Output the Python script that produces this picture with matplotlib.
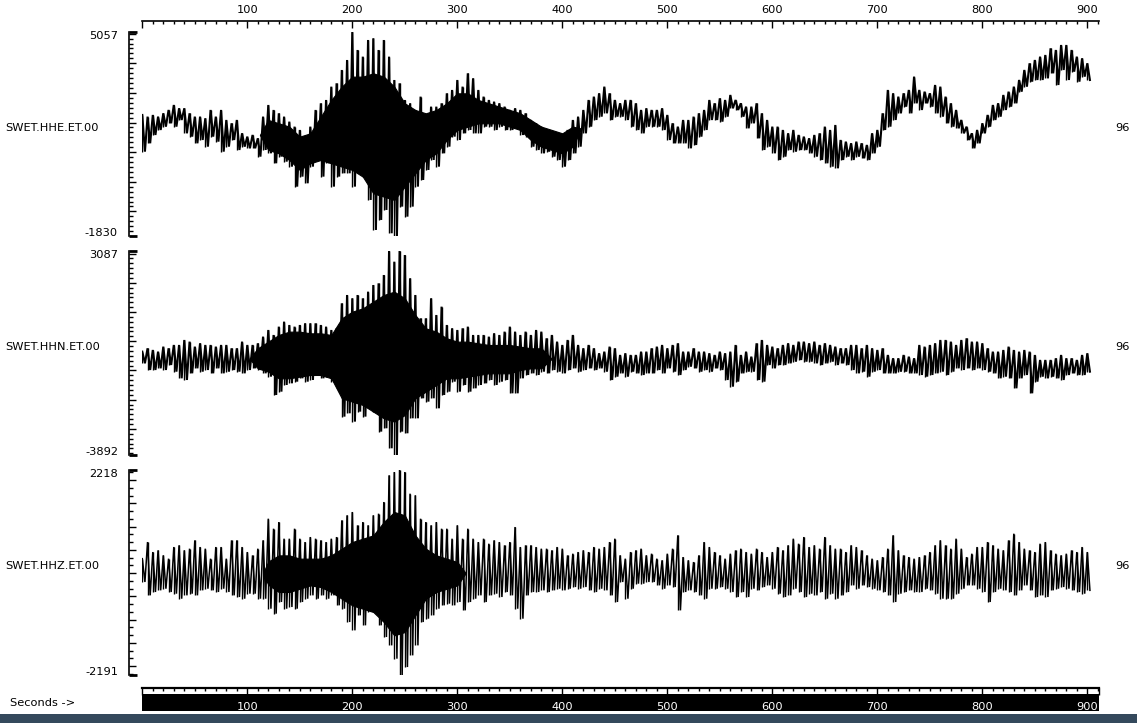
import numpy as np
import matplotlib
matplotlib.use("Agg")
import matplotlib.pyplot as plt
from matplotlib.patches import Rectangle
from matplotlib.ticker import MultipleLocator

# ---------------- data ----------------
time_s = np.arange(0, 901, 5)          # 5-second bins, start of each bin
channels = ["SWET.HHE.ET.00", "SWET.HHN.ET.00", "SWET.HHZ.ET.00"]
gain_labels = ["96", "96", "96"]
y_max = [5057, 3087, 2218]
y_min = [-1830, -3892, -2191]
time_ticks = [100, 200, 300, 400, 500, 600, 700, 800, 900]

# per-bin peak (upper) and trough (lower) of each trace
hhe_upper = [2256, 2200, 2256, 2200, 2312, 2425, 2593, 2481, 2481, 2312, 2200, 2200, 2143, 2425, 2200, 2425, 2087, 1975, 2087, 1637,
             1525, 1581, 1468, 2200, 2593, 2425, 2312, 2200, 2031, 1862, 1750, 1525, 1862, 2425, 2650, 2762, 3212, 3325, 3775, 4112,
             5057, 4450, 4225, 4787, 4843, 4450, 4787, 4225, 3437, 3325, 2762, 2650, 2425, 2875, 2200, 2537, 2537, 2650, 2987, 3100,
             3437, 3212, 3662, 3493, 3100, 2875, 2762, 2706, 2650, 2537, 2425, 2481, 2425, 2312, 2087, 1975, 1862, 1750, 1637, 1581,
             1525, 1750, 2087, 2200, 2425, 2762, 2875, 2987, 3212, 2987, 2762, 2650, 2762, 2762, 2650, 2425, 2481, 2425, 2425, 2481,
             2256, 1975, 1862, 2087, 2087, 2200, 2312, 2425, 2762, 2650, 2818, 2762, 2931, 2762, 2650, 2537, 2537, 2650, 2312, 2087,
             1862, 1862, 1750, 1637, 1750, 1581, 1525, 1468, 1581, 1637, 1862, 1750, 1918, 1412, 1356, 1300, 1356, 1300, 1243, 1637,
             1750, 2312, 3100, 2987, 2875, 2987, 3100, 3550, 3100, 3043, 2987, 3268, 3212, 2875, 2650, 2425, 2087, 1862, 1637, 1750,
             1975, 2256, 2593, 2650, 2931, 3043, 3212, 3437, 3775, 4000, 4112, 4225, 4281, 4506, 4450, 4618, 4618, 4450, 4225, 4168,
             4000]
hhe_lower = [1018, 1300, 1581, 1750, 1862, 1975, 1862, 2087, 1637, 1525, 1300, 1412, 1187, 1525, 1356, 1018, 1187, 1412, 1075, 1187,
             1131, 1131, 850, 1075, 962, 625, 850, 681, 512, -163, 175, -50, 512, 737, 175, 625, -163, 175, 287, 287,
             -163, 287, 175, -613, -1626, -1288, -950, -1738, -1830, -838, -1176, -838, -163, 62, 400, 737, 512, 962, 1187, 1525,
             1412, 1637, 1750, 1637, 1637, 1862, 1862, 1750, 1862, 1750, 1750, 1806, 1581, 1525, 1187, 1075, 962, 1018, 850, 737,
             512, 737, 962, 1187, 1637, 1862, 2087, 2200, 2312, 2087, 2200, 2200, 2087, 1862, 1750, 1637, 1862, 1862, 1862, 1750,
             1412, 1300, 1300, 1300, 1131, 1243, 1525, 1750, 2087, 2087, 2031, 2200, 2481, 2425, 2200, 1806, 1975, 1468, 1075, 1187,
             962, 737, 850, 1075, 1018, 1075, 1075, 962, 850, 737, 625, 512, 456, 737, 850, 737, 850, 793, 737, 962,
             1187, 1750, 1862, 2087, 2312, 2537, 2312, 2650, 2425, 2650, 2537, 2312, 2200, 1975, 1862, 1806, 1637, 1412, 1131, 1300,
             1637, 1862, 2087, 2200, 2425, 2537, 2650, 3043, 3212, 3381, 3437, 3437, 3493, 3662, 3268, 3775, 3437, 3718, 3381, 3550,
             3437]

hhn_upper = [-356, -242, -299, -356, -185, -242, -128, -128, 43, -14, -185, -71, -128, -128, -185, -128, -128, -242, -242, -14,
             -128, -128, -71, 157, 385, 214, 499, 670, 556, 499, 556, 613, 613, 613, 556, 499, 385, 442, 1297, 1582,
             1468, 1582, 1468, 1696, 1924, 1981, 2266, 3087, 2722, 3087, 2950, 2152, 1582, 784, 784, 1468, 898, 1183, 556, 442,
             385, 442, 499, 214, 214, 214, 157, 271, 214, 328, 499, 328, 214, 328, 214, 385, 328, 100, 214, -14,
             -128, 43, 214, -128, -242, -128, -242, -413, -356, -185, -242, -470, -413, -470, -470, -356, -356, -242, -185, -128,
             -242, -128, -71, -356, -356, -242, -356, -356, -413, -470, -356, -413, -356, -128, -470, -356, -527, -71, 43, -128,
             -185, -242, -128, -71, -128, -14, -14, -71, -14, -128, -71, -128, -185, -242, -242, -128, -128, -242, -128, -242,
             -299, -242, -470, -584, -584, -470, -527, -584, -128, -185, -128, -71, 43, 43, -14, -128, 43, 100, -14, -14,
             -71, -242, -356, -356, -299, -185, -299, -356, -299, -356, -470, -641, -641, -641, -584, -470, -584, -584, -641, -470,
             -413]
hhn_lower = [-755, -983, -983, -926, -983, -812, -1040, -1268, -1325, -1097, -926, -1040, -983, -1097, -926, -1097, -1040, -983, -1040, -1097,
             -983, -926, -983, -1097, -1211, -1838, -1724, -1496, -1439, -1382, -1268, -1382, -1325, -1154, -1268, -1211, -1382, -1610, -2579, -2465,
             -2750, -2408, -2579, -2294, -2408, -3092, -2978, -3662, -3892, -3092, -3149, -2636, -2636, -1952, -2066, -1952, -2294, -1838, -1724, -1382,
             -1724, -1496, -1724, -1610, -1496, -1439, -1325, -1496, -1382, -1325, -1781, -1781, -1268, -1154, -1097, -1154, -1040, -1097, -983, -1040,
             -1097, -983, -926, -1040, -983, -926, -983, -926, -1040, -1325, -1211, -1097, -1211, -1040, -1097, -1154, -1097, -1097, -983, -1097,
             -926, -1040, -1154, -983, -869, -926, -1040, -983, -1040, -926, -983, -1325, -1553, -1382, -1097, -1040, -1040, -1325, -1382, -812,
             -926, -812, -812, -755, -698, -641, -698, -698, -755, -812, -755, -698, -812, -755, -812, -983, -1097, -1040, -1211, -1040,
             -983, -1097, -1097, -1097, -1040, -1040, -1097, -1097, -1154, -1211, -1154, -1097, -1040, -1154, -1040, -926, -983, -926, -983, -926,
             -983, -1040, -1097, -1268, -1211, -1268, -1610, -1268, -1154, -1781, -1382, -1211, -1268, -1211, -1268, -1325, -1154, -1097, -1154, -1154,
             -1040]

hhz_upper = [311, 669, 454, 490, 382, 311, 562, 598, 490, 526, 705, 562, 526, 311, 562, 562, 311, 705, 705, 562,
             454, 382, 526, 705, 1171, 956, 1099, 741, 741, 956, 741, 669, 777, 741, 705, 669, 741, 777, 1135, 1243,
             1315, 1028, 1099, 1028, 1243, 1279, 1530, 2103, 2175, 2218, 2175, 1709, 1673, 1171, 1099, 1028, 1099, 956, 956, 741,
             1028, 741, 956, 741, 669, 741, 633, 705, 669, 598, 669, 992, 562, 598, 598, 562, 526, 526, 490, 562,
             526, 382, 418, 454, 490, 454, 562, 526, 562, 669, 741, 382, 311, 454, 490, 526, 382, 418, 311, 275,
             418, 526, 813, 346, 275, 239, 382, 669, 562, 454, 382, 311, 418, 490, 526, 454, 418, 526, 454, 346,
             454, 562, 490, 598, 741, 633, 777, 562, 598, 526, 777, 598, 526, 526, 454, 598, 562, 490, 382, 311,
             275, 346, 526, 813, 490, 382, 346, 311, 346, 382, 454, 598, 705, 598, 526, 741, 526, 346, 418, 562,
             562, 669, 598, 526, 490, 705, 848, 669, 526, 490, 454, 633, 669, 490, 418, 382, 418, 490, 454, 562,
             454]
hhz_lower = [-191, -478, -406, -370, -335, -406, -442, -550, -478, -442, -478, -370, -335, -370, -406, -335, -406, -478, -514, -550,
             -442, -442, -550, -550, -765, -872, -621, -765, -729, -765, -621, -550, -478, -550, -478, -550, -478, -693, -765, -1052,
             -1231, -908, -1123, -836, -765, -1123, -1374, -1554, -1840, -2191, -2020, -1769, -1554, -1052, -980, -908, -765, -693, -657, -693,
             -621, -801, -621, -550, -478, -621, -478, -442, -514, -406, -478, -765, -980, -478, -406, -406, -370, -406, -370, -335,
             -370, -335, -299, -335, -299, -370, -406, -335, -370, -478, -621, -191, -550, -335, -227, -227, -191, -191, -263, -335,
             -263, -299, -801, -406, -370, -406, -478, -550, -335, -335, -299, -335, -406, -514, -406, -514, -335, -370, -299, -263,
             -335, -442, -514, -478, -335, -406, -514, -442, -478, -406, -550, -442, -550, -478, -406, -263, -335, -263, -299, -335,
             -370, -406, -478, -621, -442, -406, -370, -406, -406, -335, -370, -442, -550, -550, -550, -442, -335, -263, -263, -335,
             -406, -621, -406, -335, -370, -406, -478, -370, -263, -370, -514, -478, -514, -370, -335, -299, -335, -370, -406, -442,
             -370]

# solid (fully inked) core of the trace where the wiggles merge
hhe_core_time = [112, 120, 130, 140, 150, 160, 170, 180, 190, 200, 210, 220, 230, 240, 250, 260, 270, 280, 290, 300, 310,
                 320, 330, 340, 350, 360, 370, 380, 390, 400, 410, 418]
hhe_core_top = [1580, 2087, 1975, 1862, 1525, 1637, 2200, 2762, 3212, 3550, 3550, 3662, 3550, 3212, 2650, 2425, 2312, 2425, 2650, 2987, 2987,
                2762, 2650, 2537, 2425, 2312, 2087, 1862, 1750, 1637, 1862, 1800]
hhe_core_bottom = [1580, 1075, 962, 737, 400, 625, 737, 625, 512, 400, 175, -388, -500, -613, -163, 287, 737, 962, 1412, 1750, 1862,
                   1975, 1975, 1975, 1862, 1750, 1412, 1187, 1075, 962, 1187, 1800]
hhn_core_time = [102, 110, 120, 130, 140, 150, 160, 170, 180, 190, 200, 210, 220, 230, 240, 250, 260, 270, 280, 290, 300,
                 310, 320, 330, 340, 350, 360, 370, 380, 390]
hhn_core_top = [-600, -242, -14, 214, 328, 328, 271, 271, 214, 784, 1012, 1126, 1354, 1582, 1696, 1468, 898, 442, 328, 100, -14,
                -14, -71, -128, -128, -128, -185, -242, -242, -600]
hhn_core_bottom = [-600, -926, -1040, -1268, -1268, -1211, -1154, -1154, -1268, -1952, -2066, -2180, -2408, -2636, -2750, -2522, -1952, -1724, -1496, -1268, -1268,
                   -1211, -1154, -1097, -1097, -1097, -983, -926, -926, -600]
hhz_core_time = [115, 120, 130, 140, 150, 160, 170, 180, 190, 200, 210, 220, 230, 240, 250, 260, 270, 280, 290, 300, 308]
hhz_core_top = [0, 250, 382, 382, 311, 311, 311, 382, 526, 669, 741, 813, 1099, 1315, 1243, 813, 526, 382, 311, 239, 0]
hhz_core_bottom = [0, -250, -406, -406, -335, -263, -299, -406, -550, -693, -765, -836, -1052, -1338, -1267, -908, -550, -406, -335, -263, 0]

uppers = [hhe_upper, hhn_upper, hhz_upper]
lowers = [hhe_lower, hhn_lower, hhz_lower]
core_times = [hhe_core_time, hhn_core_time, hhz_core_time]
core_tops = [hhe_core_top, hhn_core_top, hhz_core_top]
core_bottoms = [hhe_core_bottom, hhn_core_bottom, hhz_core_bottom]
major_steps = [1000, 1000, 500]
minor_steps = [1000 / 6, 1000 / 6, 500 / 3]
line_widths = [1.5, 1.5, 1.1]

# ---------------- layout (pixels of the 1137 x 723 picture) ----------------
W, H = 1137, 723
plt.rcParams["font.family"] = ["DejaVu Sans"]
FS = 8.2
fig = plt.figure(figsize=(W / 100, H / 100), dpi=100)
fig.patch.set_facecolor("white")

def fx(p):
    return p / W

def fy(p):
    return 1 - p / H

X0, X1 = 142.3, 1099.3
T_END = (X1 - X0) / 1.05
SPINE_OFF = 13.3
panels = [(32, 236), (251, 455), (470, 675)]

for i in range(3):
    top, bot = panels[i]
    ax = fig.add_axes([fx(X0), fy(bot), fx(X1) - fx(X0), (bot - top) / H])
    t = np.asarray(time_s, dtype=float)
    xs = np.empty(2 * len(t))
    ys = np.empty(2 * len(t))
    xs[0::2] = t
    xs[1::2] = t + 2.5
    ys[0::2] = uppers[i]
    ys[1::2] = lowers[i]
    ax.fill_between(core_times[i], core_bottoms[i], core_tops[i], color="black", lw=0.8)
    ax.plot(xs, ys, color="black", lw=line_widths[i], solid_joinstyle="miter")
    ax.vlines(t, lowers[i], uppers[i], color="black", lw=1.0)
    ax.set_xlim(0, T_END)
    ax.set_ylim(y_min[i], y_max[i])
    ax.patch.set_alpha(0)
    for s in ["top", "right", "bottom"]:
        ax.spines[s].set_visible(False)
    ax.spines["left"].set_position(("outward", SPINE_OFF * 0.72))
    ax.spines["left"].set_linewidth(1.2)
    ax.set_xticks([])
    ax.yaxis.set_major_locator(MultipleLocator(major_steps[i]))
    ax.yaxis.set_minor_locator(MultipleLocator(minor_steps[i]))
    ax.tick_params(axis="y", which="major", direction="in", length=5, width=1, labelleft=False)
    ax.tick_params(axis="y", which="minor", direction="in", length=2.6, width=1)
    # end caps of the amplitude scale
    wpx = X1 - X0
    for yv in (y_min[i], y_max[i]):
        ax.plot([-SPINE_OFF / wpx, -(SPINE_OFF - 8) / wpx], [yv, yv], color="black", lw=2.0,
                transform=ax.get_yaxis_transform(), clip_on=False, solid_capstyle="butt")
    # labels
    fig.text(fx(118), fy(top + 4), str(y_max[i]), ha="right", va="center", fontsize=FS)
    fig.text(fx(118), fy(bot - 3), str(y_min[i]), ha="right", va="center", fontsize=FS)
    fig.text(fx(5), fy(top + 96), channels[i], ha="left", va="center", fontsize=FS)
    fig.text(fx(1115), fy(top + 96), gain_labels[i], ha="left", va="center", fontsize=FS)

# top time axis
axt = fig.add_axes([fx(X0), fy(22), fx(X1) - fx(X0), 1 / H])
axt.set_xlim(0, T_END)
axt.patch.set_alpha(0)
for s in ["left", "right", "bottom"]:
    axt.spines[s].set_visible(False)
axt.spines["top"].set_linewidth(1.2)
axt.set_yticks([])
axt.xaxis.set_ticks_position("top")
axt.xaxis.set_label_position("top")
axt.set_xticks([0] + time_ticks)
axt.set_xticklabels([""] + [str(v) for v in time_ticks], fontsize=FS)
axt.xaxis.set_minor_locator(MultipleLocator(10))
axt.tick_params(axis="x", which="major", direction="in", length=4.8, width=1, pad=4)
axt.tick_params(axis="x", which="minor", direction="in", length=2.4, width=1)

# bottom time bar
axb = fig.add_axes([fx(X0), fy(711), fx(X1) - fx(X0), (711 - 688) / H])
axb.set_xlim(0, T_END)
axb.set_ylim(23, 0)
axb.patch.set_alpha(0)
for s in ["left", "right", "bottom"]:
    axb.spines[s].set_visible(False)
axb.spines["top"].set_linewidth(1.6)
axb.set_yticks([])
axb.axhspan(6, 23, color="black", lw=0)
axb.xaxis.set_ticks_position("top")
axb.set_xticks([0] + time_ticks + [T_END - 0.5])
axb.set_xticklabels([])
axb.xaxis.set_minor_locator(MultipleLocator(10))
axb.tick_params(axis="x", which="major", direction="in", length=5, width=1)
axb.tick_params(axis="x", which="minor", direction="in", length=2.5, width=1)
for v in time_ticks:
    axb.text(v, 18.5, str(v), color="white", ha="center", va="center", fontsize=FS)

fig.text(fx(10), fy(703), "Seconds ->", ha="left", va="center", fontsize=FS)

# desktop strip under the window
fig.patches.append(Rectangle((0, 0), 1, (H - 714) / H, transform=fig.transFigure,
                             facecolor="#34495c", edgecolor="none"))

fig.savefig("out.png", dpi=100, facecolor="white")
